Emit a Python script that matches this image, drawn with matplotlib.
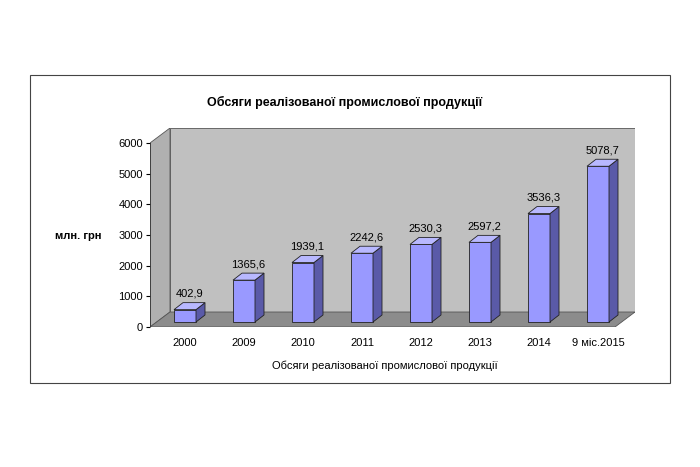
import matplotlib
matplotlib.use("Agg")
import matplotlib.pyplot as plt
from matplotlib.patches import Polygon, Rectangle

categories = ["2000", "2009", "2010", "2011", "2012", "2013", "2014", "9 міс.2015"]
values = [402.9, 1365.6, 1939.1, 2242.6, 2530.3, 2597.2, 3536.3, 5078.7]
yticks = [0, 1000, 2000, 3000, 4000, 5000, 6000]

W, H = 700, 467
fig = plt.figure(figsize=(7, 4.67), dpi=100)
fig.patch.set_facecolor("white")
fig.add_artist(Rectangle((30 / W, 1 - 383 / H), 640 / W, 308 / H, transform=fig.transFigure,
                         fill=False, edgecolor="#444444", lw=0.8))

ax = fig.add_axes([150 / W, 1 - 327 / H, 485 / W, 199 / H])
ymax = 6000 * 199 / 184
xl, xr = -35 / 59, 450 / 59
ax.set_xlim(xl, xr)
ax.set_ylim(0, ymax)
for s in ax.spines.values():
    s.set_visible(False)
ax.patch.set_alpha(0)

# wall / floor depth in data units
wdx, wdy = 20 / 59, 15 * 6000 / 184
ax.add_patch(Polygon([(xl + wdx, wdy), (xr, wdy), (xr, ymax), (xl + wdx, ymax)],
                     facecolor="#c0c0c0", edgecolor="#555555", lw=0.6, zorder=0))
ax.add_patch(Polygon([(xl, 0), (xl + wdx, wdy), (xl + wdx, ymax), (xl, ymax - wdy)],
                     facecolor="#b0b0b0", edgecolor="#555555", lw=0.6, zorder=0))
ax.add_patch(Polygon([(xl, 0), (xr - wdx, 0), (xr, wdy), (xl + wdx, wdy)],
                     facecolor="#8c8c8c", edgecolor="#555555", lw=0.6, zorder=0))

# bars with 3D faces, standing in the middle of the floor
bw = 22 / 59
dx, dy = 9 / 59, 7 * 6000 / 184
b0 = 5 * 6000 / 184
x = list(range(len(categories)))
ax.bar(x, values, width=bw, bottom=b0, color="#9999ff", edgecolor="#222222", lw=0.6, zorder=3)
for xi, v in zip(x, values):
    r = xi + bw / 2
    l = xi - bw / 2
    t = v + b0
    ax.add_patch(Polygon([(r, b0), (r + dx, b0 + dy), (r + dx, t + dy), (r, t)],
                         facecolor="#5a5aa8", edgecolor="#222222", lw=0.6, zorder=3))
    ax.add_patch(Polygon([(l, t), (r, t), (r + dx, t + dy), (l + dx, t + dy)],
                         facecolor="#b8b8ff", edgecolor="#222222", lw=0.6, zorder=3))
    ax.text(xi + dx / 2, t + dy + 120, f"{v:.1f}".replace(".", ","), ha="center", va="bottom",
            fontsize=8, family="Liberation Sans", zorder=4)

ax.set_yticks(yticks)
ax.set_yticklabels([str(t) for t in yticks], fontsize=8, family="Liberation Sans")
ax.set_xticks(x)
ax.set_xticklabels(categories, fontsize=8, family="Liberation Sans")
ax.tick_params(axis="x", length=0, pad=8)
ax.tick_params(axis="y", length=3, pad=2)
ax.axvline(xl, ymin=0, ymax=6000 / ymax, color="#333333", lw=0.6)

fig.text(345 / W, 1 - 102 / H, "Обсяги реалізованої промислової продукції", ha="center",
         va="center", fontsize=9, fontweight="bold", family="Liberation Sans")
fig.text(385 / W, 1 - 366 / H, "Обсяги реалізованої промислової продукції", ha="center",
         va="center", fontsize=8, family="Liberation Sans")
fig.text(78 / W, 1 - 236 / H, "млн. грн", ha="center", va="center", fontsize=8,
         fontweight="bold", family="Liberation Sans")

fig.savefig("out.png", dpi=100)
